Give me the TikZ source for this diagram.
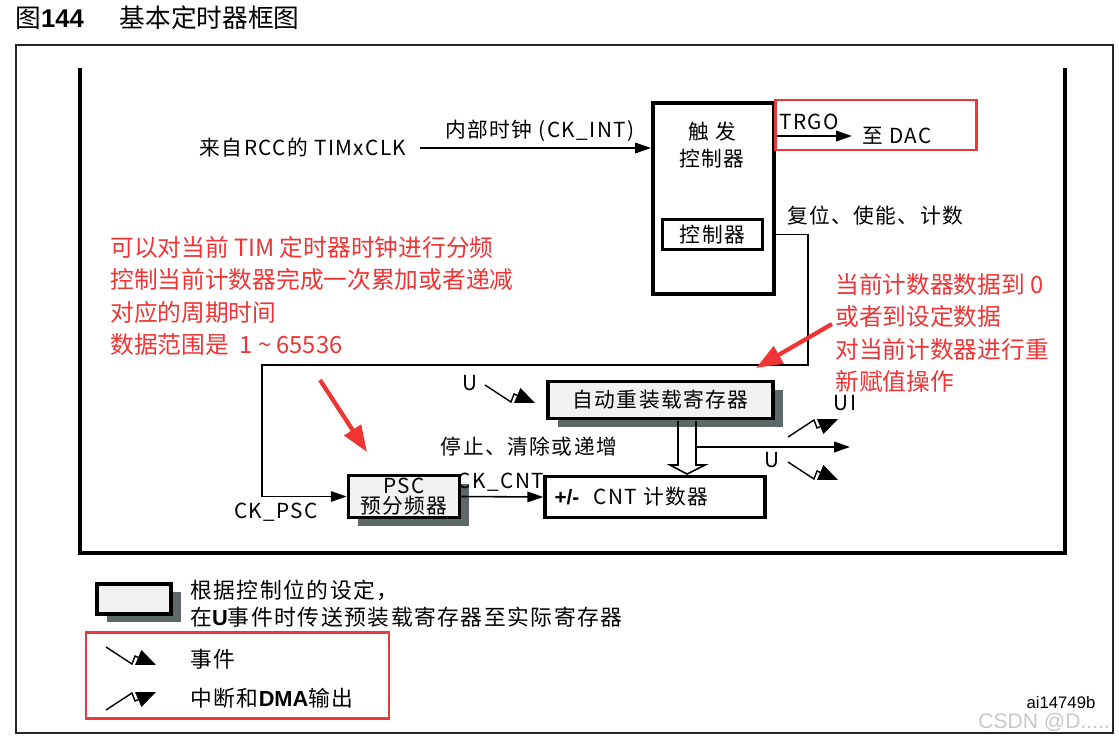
\documentclass[tikz,border=0pt]{standalone}
\usepackage{fontspec}
\setmainfont{Noto Sans CJK SC}
\newfontfamily\diagfont[LetterSpace=7]{Noto Sans CJK SC}
\newfontfamily\latfont{Liberation Sans}
\usetikzlibrary{arrows.meta,positioning,shadows}
\definecolor{NoteRed}{RGB}{238,52,52}
\definecolor{BoxRed}{RGB}{232,58,58}
\definecolor{RegFill}{RGB}{242,242,242}
\definecolor{ShadowClr}{RGB}{95,104,104}
\definecolor{MarkGray}{RGB}{200,200,200}

\tikzset{
  lbl/.style={inner sep=0pt,font=\diagfont\fontsize{11.8}{15.5}\selectfont},
  lgd/.style={inner sep=0pt,font=\diagfont\fontsize{12.4}{15.5}\selectfont},
  ttlfont/.style={inner sep=0pt,font=\fontsize{14.6}{16}\selectfont},
  note/.style={inner sep=0pt,text=NoteRed,align=left,font=\fontsize{13.5}{18.5}\selectfont},
  frameln/.style={line width=1pt,black!85},
  innerfr/.style={line width=2.3pt},
  tbox/.style={draw,line width=2.3pt},
  cbox/.style={draw,line width=1.9pt,inner sep=0pt,font=\diagfont\fontsize{11.8}{14}\selectfont},
  reg/.style={draw,line width=2.2pt,fill=RegFill,inner sep=0pt,
    general shadow={fill=ShadowClr,shadow xshift=5.6pt,shadow yshift=-4.6pt},
    font=\diagfont\fontsize{11.8}{14}\selectfont},
  cntbox/.style={draw,line width=2pt,fill=white},
  conn/.style={line width=0.9pt,-{Triangle[length=9pt,width=6pt]}},
  sym/.style={line width=0.8pt,-{Triangle[length=11pt,width=9pt]}},
  redbox/.style={draw=BoxRed,line width=1.7pt},
  redarr/.style={draw=NoteRed,line width=2.4pt,-{Triangle[length=15pt,width=11pt]}},
  evtsym/.pic={\draw[sym] (0,0) -- (26,17) -- (29,9) -- (50,18);},
  itsym/.pic={\draw[sym] (0,0) -- (26,-17) -- (29,-9) -- (50,-18);},
}

\begin{document}
\begin{tikzpicture}[x=0.02cm,y=-0.02cm]
\useasboundingbox (0,0) rectangle (1119,741);

% title and frames
\node[ttlfont,anchor=west] (ttl) at (15,18) {图{\latfont\bfseries 144}\hspace{0.72cm}基本定时器框图};
\draw[frameln] (16,45) rectangle (1113,733);
\draw[innerfr] (80,68) -- (80,553) -- (1065,553) -- (1065,68);

% trigger controller
\node[tbox,minimum width=2.42cm,minimum height=3.82cm] (trig) at (713.5,198.5) {};
\node[lbl,align=center] (trigt) at (712,145) {触 发\\控制器};
\node[cbox,minimum width=2.0cm,minimum height=0.6cm] (ctl) at (712.5,234.5) {控制器};

\node[lbl] (clkin) at (303,148) {来自RCC的 TIMxCLK};
\node[lbl] (ckint) at (540,131) {内部时钟 (CK\_INT)};
\draw[conn,shorten <=0.26cm] (clkin.east) -- (clkin.east -| trig.west);

\node[lbl] (trgo) at (809,122) {TRGO};
\node[lbl] (dacl) at (897,136) {至 DAC};
\draw[conn,shorten >=0.2cm] (trig.east |- dacl) -- (dacl.west);
\draw[redbox] (775,100) rectangle (976,150);

\node[lbl] (rst) at (875,216) {复位、使能、计数};

% registers
\node[reg,minimum width=4.5cm,minimum height=0.74cm] (arr) at (660.5,400) {自动重装载寄存器};
\node[reg,minimum width=2.22cm,minimum height=0.84cm,align=center,
  font=\diagfont\fontsize{11.8}{11}\selectfont] (psc) at (404,496.5) {PSC\\预分频器};
\node[cntbox,minimum width=4.4cm,minimum height=0.82cm] (cnt) at (655,497) {};
\node[lbl,right=0.22cm of cnt.west] (cntt) {{\latfont\bfseries +/-}\hspace{0.28cm}CNT 计数器};

\coordinate (bend1) at (808,365);
\coordinate (bend2) at (262,496.5);
\draw[conn] (trig.east |- ctl) -| (bend1) -| (bend2) -- (psc.west);
\node[lbl] (ckpsc) at (276,512) {CK\_PSC};

\draw[conn] (psc.east) -- (cnt.west);
\node[lbl] (ckcnt) at (501,482) {CK\_CNT};
\node[lbl] (stp) at (529,447) {停止、清除或递增};

% preload transfer
\draw[line width=0.9pt] (678,421) -- (678,465) -- (670,465) -- (687,474) -- (705,465) -- (696,465) -- (696,421);
\coordinate (uout) at (850,447);
\draw[conn] (696,447) -- (uout);

\node[lbl] (ul1) at (470,383) {U};
\pic at (485,385) {evtsym};
\node[lbl] (uil) at (845,403) {UI};
\pic at (788,437) {itsym};
\node[lbl] (ul2) at (772,460) {U};
\pic at (788,462) {evtsym};

% notes
\node[note,anchor=west] (notel) at (110,296) {可以对当前 TIM 定时器时钟进行分频\\控制当前计数器完成一次累加或者递减\\对应的周期时间\\数据范围是\ \ 1 \textasciitilde\ 65536};
\node[note,anchor=west] (noter) at (835,333) {当前计数器数据到 0\\或者到设定数据\\对当前计数器进行重\\新赋值操作};
\draw[redarr] (320,380) -- (367,452);
\draw[redarr] (832,324) -- (756,368);

% legend
\node[reg,minimum width=1.48cm,minimum height=0.6cm] (lgbox) at (134,599) {};
\node[lgd,anchor=west,align=left] (lgtxt) at (190,603.5) {根据控制位的设定，\\在{\latfont\bfseries U}事件时传送预装载寄存器至实际寄存器};
\draw[redbox] (86,632) rectangle (389,718);
\pic at (106,647) {evtsym};
\node[lgd,anchor=west] (lgevt) at (190,659) {事件};
\pic at (106,710) {itsym};
\node[lgd,anchor=west] (lgit) at (190,698) {中断和{\latfont\bfseries DMA}输出};

\node[inner sep=0pt,font=\latfont\fontsize{9.5}{11}\selectfont] (aiid) at (1061,703) {ai14749b};
\node[inner sep=0pt,anchor=west,text=MarkGray,font=\latfont\fontsize{12}{14}\selectfont] (wm) at (978,722) {CSDN @D.....};
\end{tikzpicture}
\end{document}
